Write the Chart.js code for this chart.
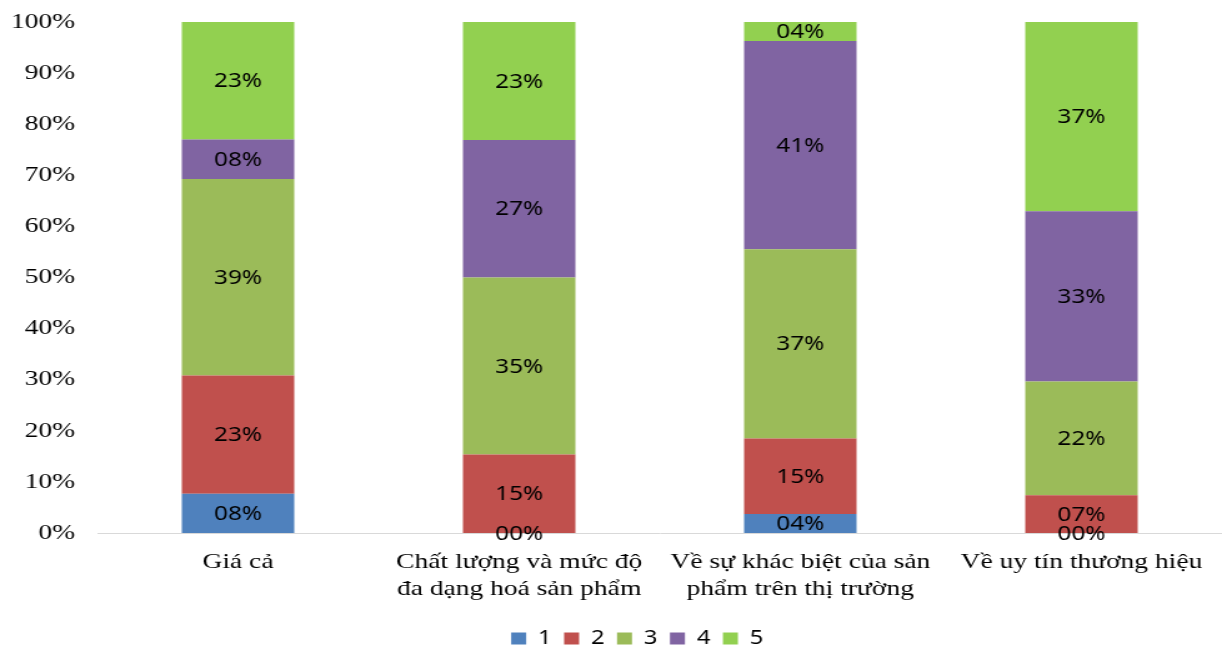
<!DOCTYPE html>
<html>
<head>
<meta charset="utf-8">
<script src="https://cdn.jsdelivr.net/npm/chart.js@4/dist/chart.umd.min.js"></script>
<style>
  html, body { margin: 0; padding: 0; background: #fff; overflow: hidden; }
  #wrap { width: 978px; height: 645px; transform: scaleX(1.2495); transform-origin: 0 0; }
</style>
</head>
<body>
<div id="wrap"><canvas id="chart" width="978" height="645"></canvas></div>
<script>
// Survey categories and the share (%) of answers for each score 1..5
const categories = [
  'Giá cả',
  ['Chất lượng và mức độ', 'đa dạng hoá sản phẩm'],
  ['Về sự khác biệt của sản', 'phẩm trên thị trường'],
  'Về uy tín thương hiệu'
];
const score1 = [7.7, 0.00, 3.70, 0.00];
const score2 = [23.1, 15.38, 14.81, 7.41];
const score3 = [38.5, 34.62, 37.04, 22.22];
const score4 = [7.7, 26.92, 40.74, 33.33];
const score5 = [23.0, 23.08, 3.70, 37.04];
const seriesNames = ['1', '2', '3', '4', '5'];
const yTicks = [0, 10, 20, 30, 40, 50, 60, 70, 80, 90, 100];

const seriesValues = [score1, score2, score3, score4, score5];
const seriesColors = ['#4F81BD', '#C0504D', '#9BBB59', '#8064A2', '#92D050'];

const fmtPct = v => String(Math.round(v)).padStart(2, '0') + '%';

// Writes each segment's share in the middle of the segment
const segmentLabels = {
  id: 'segmentLabels',
  afterDatasetsDraw(chart) {
    const ctx = chart.ctx;
    ctx.save();
    ctx.font = '19.5px "Noto Sans"';
    ctx.fillStyle = '#000';
    ctx.textAlign = 'center';
    ctx.textBaseline = 'middle';
    chart.data.datasets.forEach((ds, i) => {
      const meta = chart.getDatasetMeta(i);
      meta.data.forEach((el, j) => {
        const p = el.getProps(['x', 'y', 'base'], true);
        ctx.fillText(fmtPct(ds.data[j]), p.x, (p.y + p.base) / 2 + 1);
      });
    });
    ctx.restore();
  }
};

// Nudges the legend row so it sits under the plot's centre, near the bottom edge
const legendOffset = {
  id: 'legendOffset',
  afterLayout(chart) {
    const lg = chart.legend;
    if (!lg) return;
    lg.left += 21; lg.right += 21;
    lg.top += 9; lg.bottom += 9;
  }
};

const noEdgePadding = scale => {
  scale.paddingTop = 0;
  scale.paddingBottom = 0;
};

new Chart(document.getElementById('chart'), {
  type: 'bar',
  data: {
    labels: categories,
    datasets: seriesValues.map((vals, i) => ({
      label: seriesNames[i],
      data: vals,
      backgroundColor: seriesColors[i],
      borderWidth: 0,
      barPercentage: 0.4,
      categoryPercentage: 1.0
    }))
  },
  options: {
    responsive: false,
    animation: false,
    devicePixelRatio: 1,
    layout: { padding: { left: 0, right: 0, top: 22, bottom: -4 } },
    plugins: {
      tooltip: { enabled: false },
      legend: {
        position: 'bottom',
        labels: {
          boxWidth: 12,
          boxHeight: 12,
          padding: 10,
          color: '#000',
          font: { family: '"Noto Sans"', size: 19 }
        }
      }
    },
    scales: {
      x: {
        stacked: true,
        afterFit: noEdgePadding,
        grid: { display: false },
        border: { display: true, color: '#D9D9D9', width: 1 },
        ticks: {
          color: '#000',
          padding: 7,
          maxRotation: 0,
          autoSkip: false,
          font: { family: '"Liberation Serif"', size: 22, lineHeight: 1.25 }
        }
      },
      y: {
        stacked: true,
        min: 0,
        max: 100,
        afterFit(scale) { scale.width = 78; noEdgePadding(scale); },
        afterBuildTicks(scale) { scale.ticks = yTicks.map(v => ({ value: v })); },
        grid: { display: false, drawTicks: false },
        border: { display: false },
        ticks: {
          color: '#000',
          padding: 18,
          font: { family: '"Liberation Serif"', size: 22 },
          callback: v => v + '%'
        }
      }
    }
  },
  plugins: [segmentLabels, legendOffset]
});
</script>
</body>
</html>
